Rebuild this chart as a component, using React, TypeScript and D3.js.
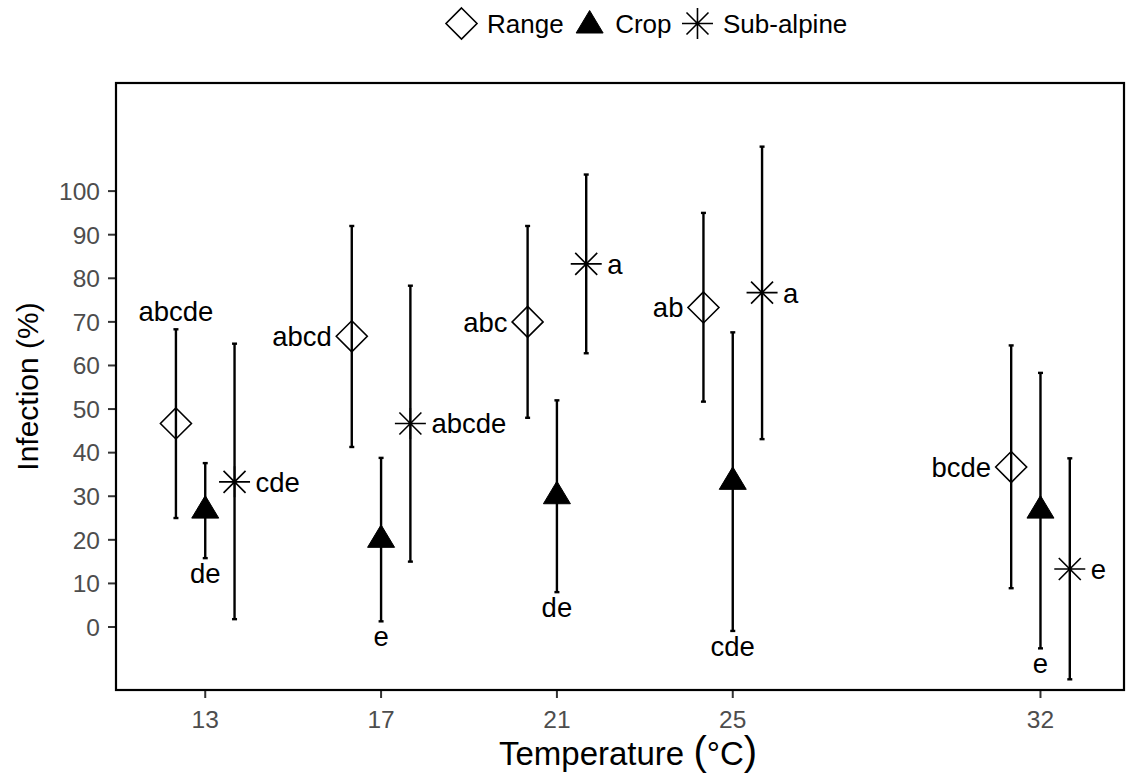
import React, { useEffect, useRef } from "react";
import * as d3 from "d3";

// Temperatures (°C) at which infection was measured
const temperatures = [13, 17, 21, 25, 32];
const yTicks = [0, 10, 20, 30, 40, 50, 60, 70, 80, 90, 100];

// Range population: mean infection and interval bounds
const rangeMean = [46.7, 66.7, 70, 73.3, 36.7];
const rangeLow = [25, 41.3, 48, 51.7, 8.9];
const rangeHigh = [68.3, 92, 92, 95, 64.6];
const rangeLetters = ["abcde", "abcd", "abc", "ab", "bcde"];
const rangeLabelSide = ["above", "left", "left", "left", "left"];

// Crop population
const cropMean = [26.7, 20, 30, 33.3, 26.7];
const cropLow = [15.8, 1.3, 8, -0.9, -4.9];
const cropHigh = [37.6, 38.8, 52, 67.6, 58.3];
const cropLetters = ["de", "e", "de", "cde", "e"];
const cropLabelSide = ["below", "below", "below", "below", "below"];

// Sub-alpine population
const alpineMean = [33.3, 46.7, 83.3, 76.7, 13.3];
const alpineLow = [1.8, 15, 62.8, 43.1, -12];
const alpineHigh = [65, 78.3, 103.8, 110.2, 38.7];
const alpineLetters = ["cde", "abcde", "a", "a", "e"];
const alpineLabelSide = ["right", "right", "right", "right", "right"];

const groupNames = ["Range", "Crop", "Sub-alpine"];
const dodge = [-2 / 3, 0, 2 / 3];

const FONT = "'Liberation Sans', Arial, Helvetica, sans-serif";

type Pt = {
  group: number;
  t: number;
  mean: number;
  low: number;
  high: number;
  letter: string;
  side: string;
};

function buildPoints(): Pt[] {
  const sets = [
    [rangeMean, rangeLow, rangeHigh, rangeLetters, rangeLabelSide],
    [cropMean, cropLow, cropHigh, cropLetters, cropLabelSide],
    [alpineMean, alpineLow, alpineHigh, alpineLetters, alpineLabelSide],
  ] as const;
  const out: Pt[] = [];
  sets.forEach((s, g) => {
    temperatures.forEach((t, i) => {
      out.push({
        group: g,
        t,
        mean: s[0][i] as number,
        low: s[1][i] as number,
        high: s[2][i] as number,
        letter: s[3][i] as string,
        side: s[4][i] as string,
      });
    });
  });
  return out;
}

function drawShape(sel: any, group: number, cx: number, cy: number) {
  if (group === 0) {
    const r = 15.5;
    sel
      .append("path")
      .attr("d", `M${cx},${cy - r}L${cx + r},${cy}L${cx},${cy + r}L${cx - r},${cy}Z`)
      .attr("fill", "none")
      .attr("stroke", "#000")
      .attr("stroke-width", 1.6);
  } else if (group === 1) {
    const r = 15;
    const hw = 13.5;
    sel
      .append("path")
      .attr("d", `M${cx},${cy - r}L${cx + hw},${cy + r / 2}L${cx - hw},${cy + r / 2}Z`)
      .attr("fill", "#000")
      .attr("stroke", "#000")
      .attr("stroke-width", 1);
  } else {
    const p = 15.5;
    const x = 11;
    sel
      .append("path")
      .attr(
        "d",
        `M${cx - p},${cy}L${cx + p},${cy}M${cx},${cy - p}L${cx},${cy + p}` +
          `M${cx - x},${cy - x}L${cx + x},${cy + x}M${cx - x},${cy + x}L${cx + x},${cy - x}`
      )
      .attr("fill", "none")
      .attr("stroke", "#000")
      .attr("stroke-width", 1.6);
  }
}

export default function App() {
  const ref = useRef<SVGSVGElement | null>(null);

  useEffect(() => {
    const svg = d3.select(ref.current as SVGSVGElement);
    svg.selectAll("*").remove();

    const W = 1126;
    const H = 782;
    const left = 116;
    const right = 1124;
    const top = 83;
    const bottom = 690;

    const x = d3.scaleLinear().domain([10.97, 33.9]).range([left, right]);
    const y = d3.scaleLinear().domain([-14.45, 124.8]).range([bottom, top]);

    svg.append("rect").attr("width", W).attr("height", H).attr("fill", "#fff");

    const root = svg.append("g");

    // y axis ticks and labels
    const yAxis = root.append("g");
    yTicks.forEach((v) => {
      yAxis
        .append("line")
        .attr("x1", left - 8)
        .attr("x2", left)
        .attr("y1", y(v))
        .attr("y2", y(v))
        .attr("stroke", "#333333")
        .attr("stroke-width", 2);
      yAxis
        .append("text")
        .attr("x", left - 16)
        .attr("y", y(v))
        .attr("dy", "0.36em")
        .attr("text-anchor", "end")
        .attr("font-family", FONT)
        .attr("font-size", 24.5)
        .attr("fill", "#4D4D4D")
        .text(String(v));
    });

    // x axis ticks and labels
    const xAxis = root.append("g");
    temperatures.forEach((t) => {
      xAxis
        .append("line")
        .attr("x1", x(t))
        .attr("x2", x(t))
        .attr("y1", bottom)
        .attr("y2", bottom + 8)
        .attr("stroke", "#333333")
        .attr("stroke-width", 2);
      xAxis
        .append("text")
        .attr("x", x(t))
        .attr("y", bottom + 38)
        .attr("text-anchor", "middle")
        .attr("font-family", FONT)
        .attr("font-size", 24.5)
        .attr("fill", "#4D4D4D")
        .text(String(t));
    });

    // axis titles
    const xt = root
      .append("text")
      .attr("x", (left + right) / 2 + 8)
      .attr("y", 765)
      .attr("text-anchor", "middle")
      .attr("font-family", FONT)
      .attr("font-size", 33)
      .attr("fill", "#000");
    xt.append("tspan").text("Temperature ");
    xt.append("tspan").attr("font-size", 40).text("(");
    xt.append("tspan").text("°C");
    xt.append("tspan").attr("font-size", 40).text(")");

    root
      .append("text")
      .attr("transform", `translate(38,${(top + bottom) / 2}) rotate(-90)`)
      .attr("text-anchor", "middle")
      .attr("font-family", FONT)
      .attr("font-size", 30)
      .attr("fill", "#000")
      .text("Infection (%)");

    // points, intervals and letters
    const pts = buildPoints();
    const marks = root.append("g");
    pts.forEach((p) => {
      const cx = x(p.t + dodge[p.group]);
      const cy = y(p.mean);
      const yl = y(p.low);
      const yh = y(p.high);
      const g = marks.append("g");
      g.append("line")
        .attr("x1", cx)
        .attr("x2", cx)
        .attr("y1", yh)
        .attr("y2", yl)
        .attr("stroke", "#000")
        .attr("stroke-width", 2.4);
      [yh, yl].forEach((yy) =>
        g
          .append("line")
          .attr("x1", cx - 2.5)
          .attr("x2", cx + 2.5)
          .attr("y1", yy)
          .attr("y2", yy)
          .attr("stroke", "#000")
          .attr("stroke-width", 2.4)
      );
      drawShape(g, p.group, cx, cy);

      const label = g
        .append("text")
        .attr("font-family", FONT)
        .attr("font-size", 27.5)
        .attr("fill", "#000")
        .text(p.letter);
      if (p.side === "above") {
        label.attr("x", cx).attr("y", yh - 8).attr("text-anchor", "middle");
      } else if (p.side === "below") {
        label.attr("x", cx).attr("y", yl + 25).attr("text-anchor", "middle");
      } else if (p.side === "left") {
        label.attr("x", cx - 20).attr("y", cy).attr("dy", "0.36em").attr("text-anchor", "end");
      } else {
        label.attr("x", cx + 21).attr("y", cy).attr("dy", "0.36em").attr("text-anchor", "start");
      }
    });

    // panel border
    root
      .append("rect")
      .attr("x", left)
      .attr("y", top)
      .attr("width", right - left)
      .attr("height", bottom - top)
      .attr("fill", "none")
      .attr("stroke", "#000")
      .attr("stroke-width", 2.2);

    // legend
    const legend = root.append("g");
    const legendY = 23.5;
    let lx = 461.5;
    groupNames.forEach((name, i) => {
      drawShape(legend, i, lx, legendY + (i === 1 ? 2 : 0));
      const txt = legend
        .append("text")
        .attr("x", lx + 25.5)
        .attr("y", legendY)
        .attr("dy", "0.36em")
        .attr("font-family", FONT)
        .attr("font-size", 26)
        .attr("fill", "#000")
        .text(name);
      const w = (txt.node() as SVGTextElement).getComputedTextLength();
      lx = lx + 25.5 + w + 26;
    });
  }, []);

  return (
    <svg
      ref={ref}
      width={1126}
      height={782}
      style={{ position: "absolute", left: 0, top: 0, display: "block" }}
    />
  );
}
